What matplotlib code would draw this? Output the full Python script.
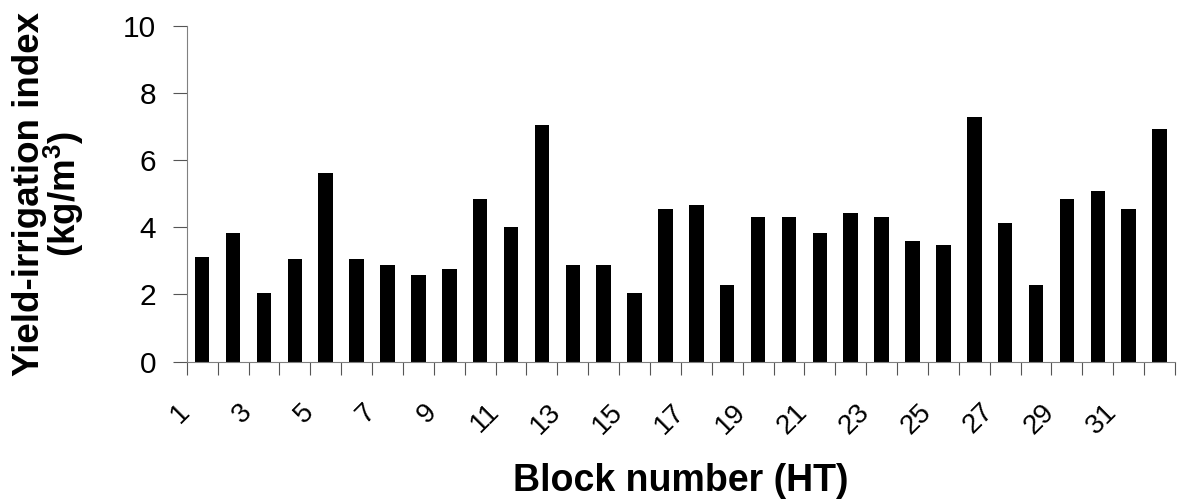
import matplotlib
matplotlib.use("Agg")
import matplotlib.pyplot as plt
from matplotlib.transforms import ScaledTranslation

plt.rcParams['font.family'] = ['Liberation Sans', 'DejaVu Sans']
plt.rcParams['mathtext.fontset'] = 'custom'
plt.rcParams['mathtext.rm'] = 'Liberation Sans'
plt.rcParams['mathtext.bf'] = 'Liberation Sans:bold'

# yield-irrigation index per block
blocks = list(range(1, 33))
index_vals = [3.12, 3.83, 2.04, 3.06, 5.62, 3.06, 2.88, 2.58, 2.76, 4.84, 4.01, 7.04,
              2.88, 2.88, 2.04, 4.54, 4.66, 2.28, 4.31, 4.31, 3.83, 4.42, 4.31, 3.59,
              3.47, 7.28, 4.13, 2.28, 4.84, 5.08, 4.54, 6.92]
label_blocks = [b for b in blocks if b % 2 == 1]
y_ticks = [0, 2, 4, 6, 8, 10]

fig = plt.figure(figsize=(11.79, 5.01), dpi=100)
ax = fig.add_axes([0.1584, 0.278, 0.8382, 0.671])

ax.bar(blocks, index_vals, width=0.47, color='black')

ax.set_xlim(0.5, 32.5)
ax.set_ylim(0, 10)
ax.set_yticks(y_ticks)

# category boundaries as ticks, labels on odd blocks
ax.set_xticks([b - 0.5 for b in blocks] + [32.5])
ax.set_xticklabels([])
ax.set_xticks(label_blocks, minor=True)
ax.set_xticklabels([str(b) for b in label_blocks], minor=True, rotation=45,
                   ha='right', va='center', rotation_mode='anchor', fontsize=20)
ax.tick_params(axis='x', which='major', length=9, color='#555555', direction='out')
ax.tick_params(axis='x', which='minor', length=0, pad=0)
ax.tick_params(axis='y', length=10, color='#555555', labelsize=21.5, pad=12)
off = ScaledTranslation(-0.16, -0.46, fig.dpi_scale_trans)
for lbl in ax.get_xticklabels(minor=True):
    lbl.set_transform(lbl.get_transform() + off)

for s in ['top', 'right']:
    ax.spines[s].set_visible(False)
for s in ['left', 'bottom']:
    ax.spines[s].set_color('#808080')

ax.set_ylabel('Yield-irrigation index\n(kg/m$^{\\mathbf{3}}$)', fontsize=26.5,
              fontweight='bold', linespacing=0.82)
ax.yaxis.set_label_coords(-0.102, 0.5)
ax.set_xlabel('Block number (HT)', fontsize=27, fontweight='bold')
ax.xaxis.set_label_coords(0.5, -0.30)

fig.savefig('out.png', dpi=100)
